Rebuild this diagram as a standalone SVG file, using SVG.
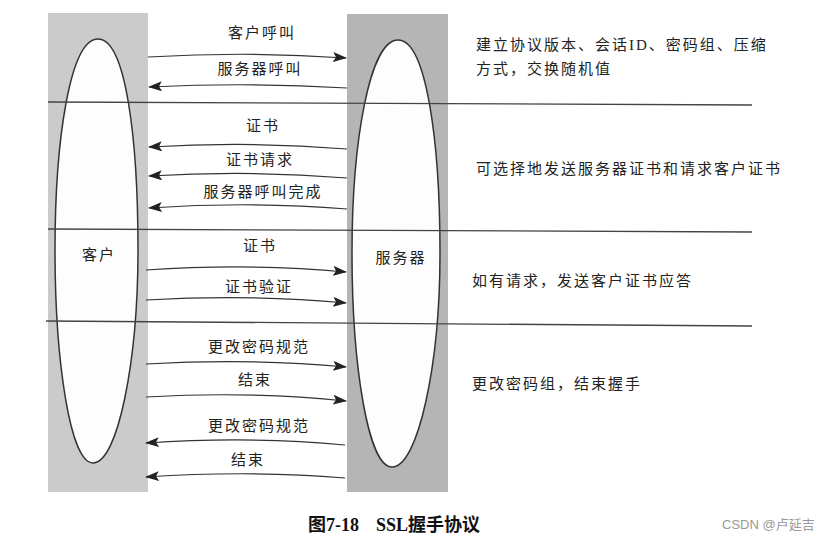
<svg xmlns="http://www.w3.org/2000/svg" width="837" height="540" viewBox="0 0 837 540">
<style>
.t{font-family:"Liberation Serif","Noto Sans CJK SC",serif;font-size:15px;letter-spacing:2px;fill:#222}
.c{text-anchor:middle}
.ln{stroke:#444;stroke-width:1.3;fill:none}
.ar{stroke:#333;stroke-width:1.2;fill:none}
.el{fill:#fdfdfd;stroke:#333;stroke-width:1.5}
</style>
<defs>
<marker id="ah" markerWidth="14" markerHeight="10" refX="13" refY="5" orient="auto" markerUnits="userSpaceOnUse">
<path d="M0,0 L14,5 L0,10 L3,5 Z" fill="#222"/>
</marker>
</defs>
<rect width="837" height="540" fill="#fff"/>
<g id="client">
<rect x="48" y="13" width="100" height="479" fill="#cbcbcb"/>
<path class="el" d="M98,39 C70,39 55,140 55,250 C55,360 70,463 93,463 C118,463 138,360 138,250 C138,140 126,39 98,39 Z"/>
<text class="t c" x="99" y="260">客户</text>
</g>
<g id="server">
<rect x="347" y="14" width="101" height="478" fill="#b5b5b5"/>
<path class="el" d="M398,40 C370,40 352,140 352,253 C352,365 368,467 392,467 C418,467 440,365 440,253 C440,140 426,40 398,40 Z"/>
<text class="t c" x="401" y="263">服务器</text>
</g>
<g id="dividers">
<path class="ln" d="M48,102 L752,105"/>
<path class="ln" d="M48,229 L752,232"/>
<path class="ln" d="M46,321 L752,326"/>
</g>
<g id="connectors">
<path class="ar" d="M148,57 Q250,51 346,58" marker-end="url(#ah)"/>
<path class="ar" d="M347,88 Q250,82 149,87" marker-end="url(#ah)"/>
<path class="ar" d="M347,149 Q250,141 149,147" marker-end="url(#ah)"/>
<path class="ar" d="M347,178 Q250,170 149,176" marker-end="url(#ah)"/>
<path class="ar" d="M347,209 Q250,201 149,208" marker-end="url(#ah)"/>
<path class="ar" d="M146,270 Q250,263 346,272" marker-end="url(#ah)"/>
<path class="ar" d="M146,300 Q250,294 346,303" marker-end="url(#ah)"/>
<path class="ar" d="M146,364 Q250,358 346,367" marker-end="url(#ah)"/>
<path class="ar" d="M146,397 Q250,391 346,401" marker-end="url(#ah)"/>
<path class="ar" d="M345,445 Q250,436 146,443" marker-end="url(#ah)"/>
<path class="ar" d="M345,478 Q250,470 146,477" marker-end="url(#ah)"/>
</g>
<g id="labels">
<text class="t c" x="262" y="38">客户呼叫</text>
<text class="t c" x="260" y="74">服务器呼叫</text>
<text class="t c" x="263" y="131">证书</text>
<text class="t c" x="260" y="165">证书请求</text>
<text class="t c" x="263" y="197">服务器呼叫完成</text>
<text class="t c" x="260" y="251">证书</text>
<text class="t c" x="259" y="292">证书验证</text>
<text class="t c" x="259" y="352">更改密码规范</text>
<text class="t c" x="255" y="385">结束</text>
<text class="t c" x="259" y="431">更改密码规范</text>
<text class="t c" x="248" y="465">结束</text>
</g>
<g id="notes">
<text class="t" x="476" y="50">建立协议版本、会话ID、密码组、压缩</text>
<text class="t" x="476" y="74">方式，交换随机值</text>
<text class="t" x="476" y="174">可选择地发送服务器证书和请求客户证书</text>
<text class="t" x="472" y="286">如有请求，发送客户证书应答</text>
<text class="t" x="472" y="389">更改密码组，结束握手</text>
</g>
<g style="font-family:'Liberation Serif','Noto Sans CJK SC',serif;font-size:18px;font-weight:bold;fill:#111">
<text x="308" y="531">图7-18</text>
<text x="376" y="531">SSL握手协议</text>
</g>
<text x="722" y="529" style="font-family:'Liberation Sans','Noto Sans CJK SC',sans-serif;font-size:13px;fill:#999">CSDN @卢延吉</text>
</svg>
